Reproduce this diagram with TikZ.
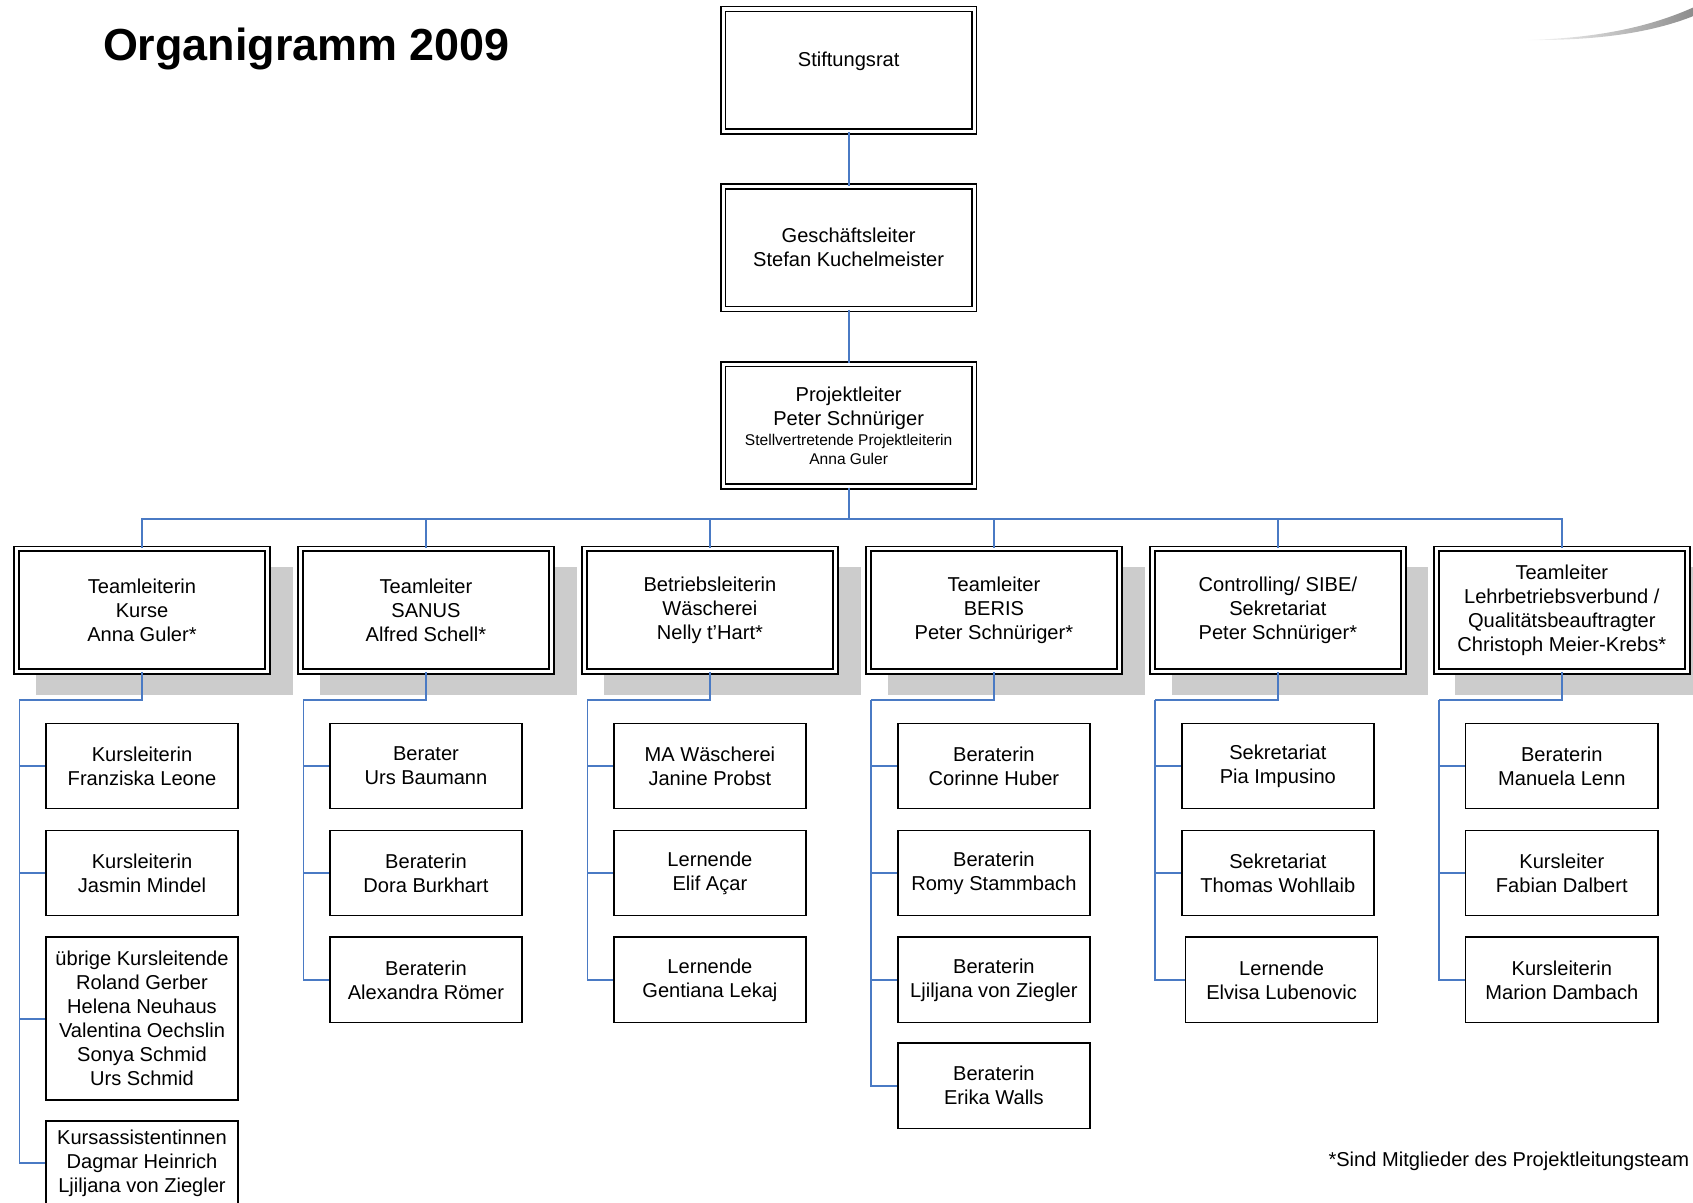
\documentclass[tikz,border=0pt]{standalone}
\usepackage{fontspec}
\setmainfont{Liberation Sans}
\definecolor{conncol}{RGB}{74,122,196}
\definecolor{shadowcol}{RGB}{204,204,204}
\begin{document}
\begin{tikzpicture}[x=0.5pt,y=-0.5pt,
  txt/.style={font=\fontsize{9.3}{11.1}\selectfont, align=center},
  dbox/.style={draw, double, line width=0.75pt, double distance=1.5pt, fill=white,
    minimum width=116.25pt, minimum height=56.75pt, inner sep=0pt, txt},
  cbox/.style={draw, line width=0.7pt, fill=white, minimum width=89pt,
    minimum height=39.5pt, inner sep=0pt, txt},
  conn/.style={draw=conncol, line width=0.8pt},
  shadowbox/.style={fill=shadowcol}]
\useasboundingbox (0,0) rectangle (1568,1114);
\clip (0,0) rectangle (1568,1114);

% swoosh
\shade[left color=white, right color=black!45]
  (1410,37) .. controls (1480,36) and (1530,24) .. (1568,7)
  -- (1568,15) .. controls (1530,30) and (1480,38) .. (1410,37) -- cycle;

% title
\node[anchor=base west, font=\bfseries\fontsize{20.8}{24}\selectfont, inner sep=0pt] (title) at (95,56) {Organigramm 2009};

% shadows
\foreach \cx in {131.5,394.5,657.5,920.5,1183.5,1446.5}
  \fill[shadowbox] (\cx-98.5,525) rectangle (\cx+139.5,644);

% top boxes
\node[dbox] (st) at (786,65) {Stiftungsrat\\[-4pt]\strut};
\node[dbox] (gl) at (786,229.5) {Geschäftsleiter\\Stefan Kuchelmeister};
\node[dbox] (pl) at (786,394) {Projektleiter\\Peter Schnüriger\\[-1.6pt]{\fontsize{7.2}{8.5}\selectfont Stellvertretende Projektleiterin}\\[-2.6pt]{\fontsize{7.2}{8.5}\selectfont Anna Guler}};

% team boxes
\node[dbox] (t1) at (131.5,565) {Teamleiterin\\Kurse\\Anna Guler*};
\node[dbox] (t2) at (394.5,565) {Teamleiter\\SANUS\\Alfred Schell*};
\node[dbox] (t3) at (657.5,565) {Betriebsleiterin\\Wäscherei\\Nelly t'Hart*};
\node[dbox] (t4) at (920.5,565) {Teamleiter\\BERIS\\Peter Schnüriger*};
\node[dbox] (t5) at (1183.5,565) {Controlling/ SIBE/\\Sekretariat\\Peter Schnüriger*};
\node[dbox] (t6) at (1446.5,565) {Teamleiter\\Lehrbetriebsverbund /\\Qualitätsbeauftragter\\Christoph Meier-Krebs*};

% children column 1
\node[cbox] (c11) at (131.5,709.5) {Kursleiterin\\Franziska Leone};
\node[cbox] (c12) at (131.5,808.5) {Kursleiterin\\Jasmin Mindel};
\node[cbox, minimum height=75.5pt] (c13) at (131.5,943.5) {übrige Kursleitende\\Roland Gerber\\Helena Neuhaus\\Valentina Oechslin\\Sonya Schmid\\Urs Schmid};
\node[cbox, minimum height=39pt] (c14) at (131.5,1077) {Kursassistentinnen\\Dagmar Heinrich\\Ljiljana von Ziegler};
% column 2
\node[cbox] (c21) at (394.5,709.5) {Berater\\Urs Baumann};
\node[cbox] (c22) at (394.5,808.5) {Beraterin\\Dora Burkhart};
\node[cbox] (c23) at (394.5,907.5) {Beraterin\\Alexandra Römer};
% column 3
\node[cbox] (c31) at (657.5,709.5) {MA Wäscherei\\Janine Probst};
\node[cbox] (c32) at (657.5,808.5) {Lernende\\Elif Açar};
\node[cbox] (c33) at (657.5,907.5) {Lernende\\Gentiana Lekaj};
% column 4
\node[cbox] (c41) at (920.5,709.5) {Beraterin\\Corinne Huber};
\node[cbox] (c42) at (920.5,808.5) {Beraterin\\Romy Stammbach};
\node[cbox] (c43) at (920.5,907.5) {Beraterin\\Ljiljana von Ziegler};
\node[cbox] (c44) at (920.5,1005.5) {Beraterin\\Erika Walls};
% column 5
\node[cbox] (c51) at (1183.5,709.5) {Sekretariat\\Pia Impusino};
\node[cbox] (c52) at (1183.5,808.5) {Sekretariat\\Thomas Wohllaib};
\node[cbox] (c53) at (1187,907.5) {Lernende\\Elvisa Lubenovic};
% column 6
\node[cbox] (c61) at (1446.5,709.5) {Beraterin\\Manuela Lenn};
\node[cbox] (c62) at (1446.5,808.5) {Kursleiter\\Fabian Dalbert};
\node[cbox] (c63) at (1446.5,907.5) {Kursleiterin\\Marion Dambach};

% footnote
\node[anchor=base west, txt, inner sep=0pt] (fn) at (1230,1080) {*Sind Mitglieder des Projektleitungsteam};

% connectors top
\draw[conn] (st.south) -- (gl.north);
\draw[conn] (gl.south) -- (pl.north);
\coordinate (bus) at (786,481);
\draw[conn] (pl.south) -- (bus);
\foreach \t in {t1,t2,t3,t4,t5,t6}
  \draw[conn] (bus) -| (\t.north);

% rails
\coordinate (r1) at (18,648);
\coordinate (r2) at (281,648);
\coordinate (r3) at (544,648);
\coordinate (r4) at (807,648);
\coordinate (r5) at (1070,648);
\coordinate (r6) at (1333,648);
\foreach \i in {1,...,6}
  \draw[conn] (t\i.south) |- (r\i);
\foreach \c in {c11,c12,c13,c14} \draw[conn] (r1) |- (\c.west);
\foreach \c in {c21,c22,c23} \draw[conn] (r2) |- (\c.west);
\foreach \c in {c31,c32,c33} \draw[conn] (r3) |- (\c.west);
\foreach \c in {c41,c42,c43,c44} \draw[conn] (r4) |- (\c.west);
\foreach \c in {c51,c52,c53} \draw[conn] (r5) |- (\c.west);
\foreach \c in {c61,c62,c63} \draw[conn] (r6) |- (\c.west);
\end{tikzpicture}
\end{document}
